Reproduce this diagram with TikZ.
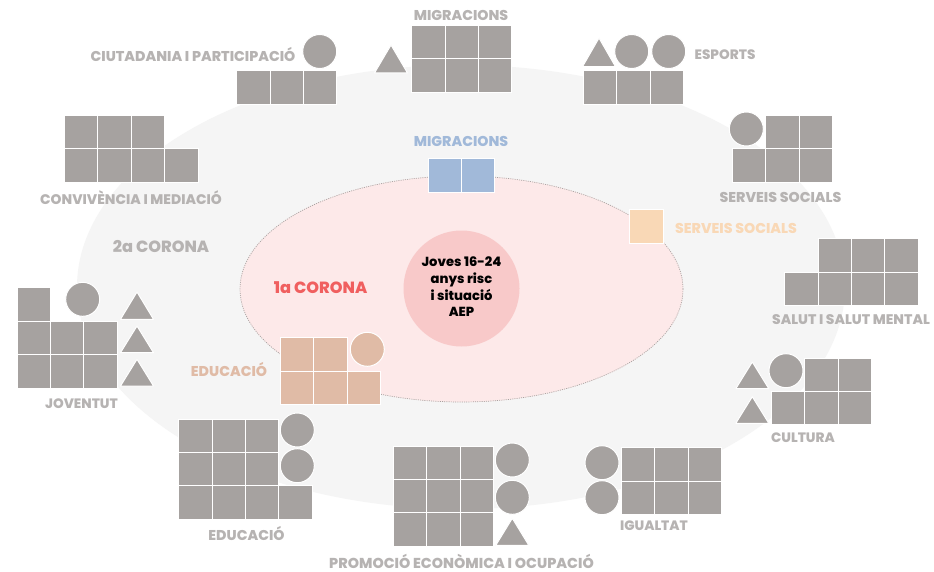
\documentclass[tikz,border=0pt]{standalone}
\usepackage{fontspec}
\setmainfont{Poppins}[BoldFont={Poppins ExtraBold}]
\definecolor{gr}{HTML}{A6A2A0}
\definecolor{lab}{HTML}{B6B3B2}
\definecolor{blu}{HTML}{A1B9D9}
\definecolor{pch}{HTML}{E0BBA6}
\definecolor{org}{HTML}{F9D8B6}
\definecolor{outerc}{HTML}{F5F5F5}
\definecolor{innerc}{HTML}{FDE9E9}
\definecolor{corec}{HTML}{F8C9C9}
\definecolor{redl}{HTML}{F05F5F}
\newcommand{\cellgrid}[5]{% x y cols rows color
  \foreach \ci in {1,...,#3}{\foreach \cj in {1,...,#4}{
    \fill[#5,draw=white,line width=1] ({#1+(\ci-1)*33.4},{#2+(\cj-1)*33.4}) rectangle +(33.4,33.4);
  }}}
\newcommand{\blob}[3]{\fill[#3,draw=white,line width=1] (#1,#2) circle (17);}
\newcommand{\tri}[3]{\fill[gr,draw=white,line width=1,line join=round] (#1,#2) -- ({#1+16.5},{#3}) -- ({#1-16.5},{#3}) -- cycle;}
\tikzset{
  lbl/.style={font=\fontsize{14.2}{15}\bfseries,text=lab,inner sep=0,anchor=center,yshift=-0.6pt},
  lblsmall/.style={lbl,font=\fontsize{13.6}{15}\bfseries},
}
\begin{document}
\begin{tikzpicture}[x=1pt,y=-1pt]
\useasboundingbox (0,0) rectangle (934,572);
\fill[white] (0,0) rectangle (934,572);
% rings
\fill[outerc] (461,287) ellipse [x radius=384,y radius=222];
\draw[innerc,fill=innerc] (461.5,289) ellipse [x radius=221.5,y radius=113];
\draw[gr,line width=0.7,dash pattern=on 1pt off 1.2pt] (461.5,289) ellipse [x radius=221.5,y radius=113];
\fill[corec] (461.5,288.5) circle (58);
\node[align=center,inner sep=0,font=\fontsize{13.1}{16.6}\bfseries,text=black] (core) at (461.5,287) {Joves 16-24\\anys risc\\i situació\\AEP};
\node[font=\fontsize{16.2}{18}\bfseries,text=redl,inner sep=0] (c1) at (320.5,288) {1a CORONA};
\node[font=\fontsize{16.2}{18}\bfseries,text=lab,inner sep=0] (c2) at (161,247) {2a CORONA};
% Ciutadania
\cellgrid{236.7}{71}{3}{1}{gr}
\blob{319.7}{51.5}{gr}
\node[lbl] (ciu) at (193,53.7) {CIUTADANIA I PARTICIPACIÓ};
% Migracions gray
\tri{391}{45}{73}
\cellgrid{411.7}{25.3}{3}{2}{gr}
\node[lbl] (mig) at (461,15) {MIGRACIONS};
% Convivencia
\cellgrid{64.5}{115.3}{3}{1}{gr}
\cellgrid{64.5}{148.7}{4}{1}{gr}
\node[lblsmall,font=\fontsize{13.9}{15}\bfseries] (con) at (131,197) {CONVIVÈNCIA I MEDIACIÓ};
% Migracions blue
\cellgrid{428}{158.8}{2}{1}{blu}
\node[lbl,text=blu] (migb) at (461,141) {MIGRACIONS};
% Esports
\tri{599}{38}{66.7}
\blob{631.7}{51.5}{gr}
\blob{668.7}{51.5}{gr}
\cellgrid{583.3}{71}{3}{1}{gr}
\node[lblsmall] (esp) at (725,54) {ESPORTS};
% Serveis socials gray
\blob{746.3}{129}{gr}
\cellgrid{765.7}{115.3}{2}{1}{gr}
\cellgrid{732.3}{148.7}{3}{1}{gr}
\node[lbl] (ser) at (780.5,197) {SERVEIS SOCIALS};
% Serveis orange
\cellgrid{629.7}{209.7}{1}{1}{org}
\node[lbl,text=org] (sero) at (736,228) {SERVEIS SOCIALS};
% Salut
\cellgrid{818}{238.8}{3}{1}{gr}
\cellgrid{784.6}{272.2}{4}{1}{gr}
\node[lblsmall,font=\fontsize{13.9}{15}\bfseries] (sal) at (851,319.3) {SALUT I SALUT MENTAL};
% Joventut
\cellgrid{17}{287.8}{1}{1}{gr}
\cellgrid{17}{321.2}{3}{2}{gr}
\blob{82.7}{299.3}{gr}
\tri{137}{292}{319.3}
\tri{137}{326}{352.7}
\tri{137}{359.3}{386}
\node[lblsmall] (jov) at (81.5,403) {JOVENTUT};
% Educacio peach
\cellgrid{280.3}{337.6}{2}{1}{pch}
\cellgrid{280.3}{371}{3}{1}{pch}
\blob{367.3}{349.3}{pch}
\node[lbl,text=pch] (edup) at (229,369.3) {EDUCACIÓ};
% Educacio gray
\cellgrid{178.7}{419}{3}{3}{gr}
\cellgrid{278.9}{485.8}{1}{1}{gr}
\blob{297.3}{430}{gr}
\blob{297.3}{465.7}{gr}
\node[lbl] (edu) at (246.5,532.7) {EDUCACIÓ};
% Promocio
\cellgrid{393.3}{446}{3}{3}{gr}
\blob{512.3}{460}{gr}
\blob{512.3}{497.3}{gr}
\tri{512.3}{518.3}{545.3}
\node[lblsmall,font=\fontsize{14.35}{15}\bfseries] (pro) at (461.5,561) {PROMOCIÓ ECONÒMICA I OCUPACIÓ};
% Igualtat
\blob{602}{462.7}{gr}
\blob{602}{497.7}{gr}
\cellgrid{621.5}{447.8}{3}{2}{gr}
\node[lblsmall] (igu) at (654,525) {IGUALTAT};
% Cultura
\tri{752.3}{362}{388.7}
\tri{752.3}{396.7}{423.3}
\blob{786}{370.7}{gr}
\cellgrid{804.7}{358}{2}{1}{gr}
\cellgrid{771.3}{391.4}{3}{1}{gr}
\node[lblsmall] (cul) at (803,436.7) {CULTURA};
\end{tikzpicture}
\end{document}
